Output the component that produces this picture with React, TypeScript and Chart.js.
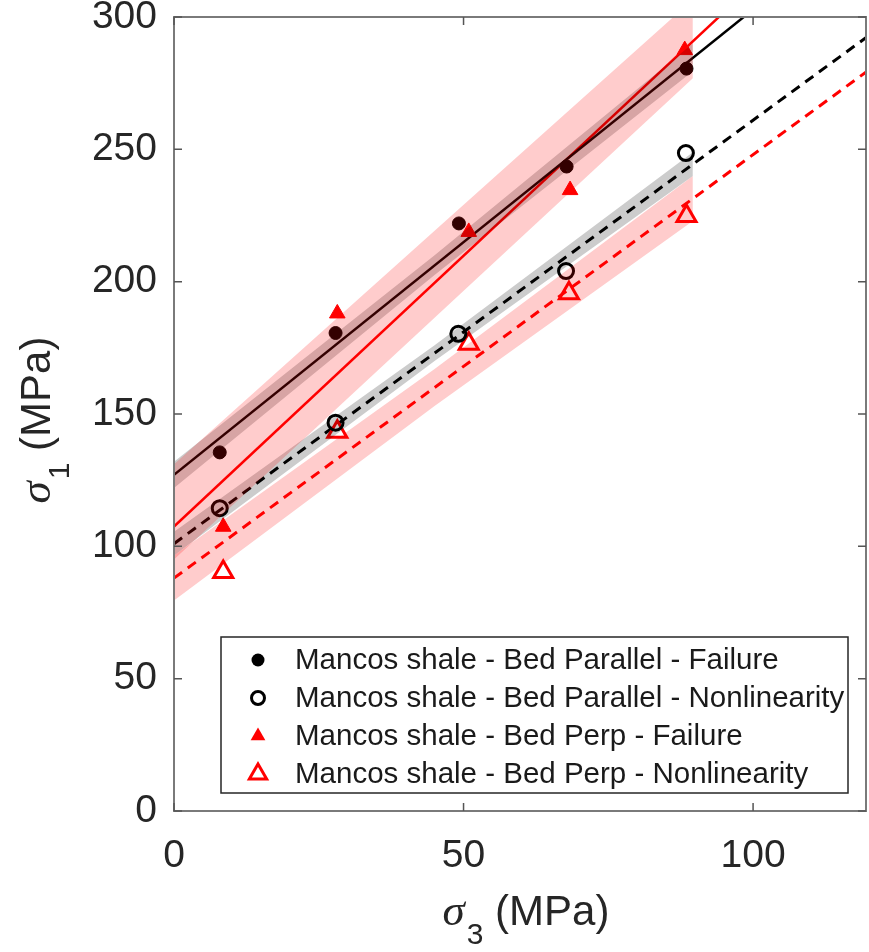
import React, { useEffect, useRef } from 'react';
import { Chart, registerables } from 'chart.js';

Chart.register(...registerables);

const W = 869;
const H = 952;
const FONT = "'Liberation Sans', Arial, Helvetica, sans-serif";
const SERIF = "'Liberation Serif', 'Times New Roman', serif";
const TEXT = '#262626';
const PINK = 'rgba(255,0,0,0.2)';
const GRAY = 'rgba(0,0,0,0.2)';

// ---- measured points (sigma3, sigma1) in MPa ----
const parFailS3 = [7.9, 27.9, 49.2, 67.8, 88.5];
const parFailS1 = [135.5, 180.6, 222.0, 243.5, 280.5];
const parNonS3 = [7.9, 27.9, 49.1, 67.7, 88.4];
const parNonS1 = [114.4, 146.7, 180.3, 204.0, 248.6];
const perpFailS3 = [8.5, 28.2, 50.9, 68.4, 88.2];
const perpFailS1 = [107.4, 188.0, 218.8, 234.6, 287.5];
const perpNonS3 = [8.5, 28.2, 50.9, 68.2, 88.5];
const perpNonS1 = [90.3, 143.3, 176.5, 195.6, 224.8];

// ---- fitted lines (end points) ----
const fitX = [0, 120];
const parFailFit = [127, 338];
const perpFailFit = [107.5, 353];
const parNonFit = [101, 293];
const perpNonFit = [88, 280];

// ---- confidence bands ----
const bandX = [0, 45, 89.6];
const parFailLo = [122, 202.5, 279.5];
const parFailHi = [132, 210, 290];
const perpFailLo = [95, 186.4, 276.9];
const perpFailHi = [131, 219.2, 306.6];
const parNonLo = [96.5, 170, 239.9];
const parNonHi = [105.5, 176, 248.9];
const perpNonLo = [79.5, 153, 222.9];
const perpNonHi = [96.5, 167, 239.9];

// ---- axes ----
const xTicks = [0, 50, 100];
const yTicks = [0, 50, 100, 150, 200, 250, 300];
const xMin = 0;
const xMax = 119.5;
const yMin = 0;
const yMax = 300;

const legendLabels = [
  'Mancos shale - Bed Parallel - Failure',
  'Mancos shale - Bed Parallel - Nonlinearity',
  'Mancos shale - Bed Perp - Failure',
  'Mancos shale - Bed Perp - Nonlinearity',
];
const legendKinds = ['dot', 'ring', 'tri', 'triOpen'];

const pts = (xs: number[], ys: number[]) => xs.map((x, i) => ({ x, y: ys[i] }));

function drawMarker(ctx: CanvasRenderingContext2D, kind: string, x: number, y: number) {
  ctx.save();
  if (kind === 'dot') {
    ctx.beginPath();
    ctx.arc(x, y, 6.5, 0, Math.PI * 2);
    ctx.fillStyle = '#000';
    ctx.fill();
  } else if (kind === 'ring') {
    ctx.beginPath();
    ctx.arc(x, y, 6.5, 0, Math.PI * 2);
    ctx.strokeStyle = '#000';
    ctx.lineWidth = 3;
    ctx.stroke();
  } else {
    const r = kind === 'tri' ? 8.5 : 10;
    ctx.beginPath();
    ctx.moveTo(x, y - r);
    ctx.lineTo(x + 0.866 * r, y + 0.5 * r);
    ctx.lineTo(x - 0.866 * r, y + 0.5 * r);
    ctx.closePath();
    if (kind === 'tri') {
      ctx.fillStyle = '#ff0000';
      ctx.fill();
    } else {
      ctx.strokeStyle = '#ff0000';
      ctx.lineWidth = 3;
      ctx.stroke();
    }
  }
  ctx.restore();
}

function drawSigmaTitle(ctx: CanvasRenderingContext2D, sub: string, cx: number, base: number) {
  const symFont = `italic 45px ${SERIF}`;
  const subFont = `30px ${FONT}`;
  const restFont = `42px ${FONT}`;
  const rest = ' (MPa)';
  ctx.font = symFont;
  const w1 = ctx.measureText('σ').width;
  ctx.font = subFont;
  const w2 = ctx.measureText(sub).width;
  ctx.font = restFont;
  const w3 = ctx.measureText(rest).width;
  let x = cx - (w1 + w2 + w3 + 2) / 2;
  ctx.fillStyle = TEXT;
  ctx.textAlign = 'left';
  ctx.textBaseline = 'alphabetic';
  ctx.font = symFont;
  ctx.fillText('σ', x, base);
  x += w1 + 2;
  ctx.font = subFont;
  ctx.fillText(sub, x, base + 19);
  x += w2;
  ctx.font = restFont;
  ctx.fillText(rest, x, base);
}

const decorPlugin = {
  id: 'decor',
  afterDraw(chart: any) {
    const { ctx, chartArea: a, scales } = chart;
    const xs = scales.x;
    const ys = scales.y;
    ctx.save();

    // legend box
    const lx = 221, ly = 637, lw = 627, lh = 156;
    ctx.fillStyle = '#ffffff';
    ctx.fillRect(lx, ly, lw, lh);
    ctx.strokeStyle = '#262626';
    ctx.lineWidth = 1.5;
    ctx.strokeRect(lx, ly, lw, lh);
    const rowY = [660, 698, 736, 774];
    legendLabels.forEach((lab, i) => {
      drawMarker(ctx, legendKinds[i], 258, rowY[i]);
      ctx.fillStyle = '#1a1a1a';
      ctx.font = `29.5px ${FONT}`;
      ctx.textAlign = 'left';
      ctx.textBaseline = 'middle';
      ctx.fillText(lab, 295, rowY[i] + 1);
    });

    // axes box
    ctx.strokeStyle = '#7a7a7a';
    ctx.lineWidth = 2;
    ctx.strokeRect(a.left, a.top, a.right - a.left, a.bottom - a.top);
    ctx.lineWidth = 1.5;
    ctx.strokeStyle = '#555';
    ctx.beginPath();
    xTicks.forEach((v) => {
      const px = xs.getPixelForValue(v);
      ctx.moveTo(px, a.bottom);
      ctx.lineTo(px, a.bottom - 8);
      ctx.moveTo(px, a.top);
      ctx.lineTo(px, a.top + 8);
    });
    yTicks.forEach((v) => {
      const py = ys.getPixelForValue(v);
      ctx.moveTo(a.left, py);
      ctx.lineTo(a.left + 8, py);
      ctx.moveTo(a.right, py);
      ctx.lineTo(a.right - 8, py);
    });
    ctx.stroke();

    // axis titles
    drawSigmaTitle(ctx, '3', (a.left + a.right) / 2 + 6, 925);
    ctx.save();
    ctx.translate(50, (a.top + a.bottom) / 2 + 6);
    ctx.rotate(-Math.PI / 2);
    drawSigmaTitle(ctx, '1', 0, 0);
    ctx.restore();

    ctx.restore();
  },
};

const bandUpper = (xs: number[], ys: number[]) => ({
  data: pts(xs, ys),
  borderColor: 'rgba(0,0,0,0)',
  borderWidth: 0,
  pointRadius: 0,
  fill: false,
  order: 0,
});
const bandLower = (xs: number[], ys: number[], color: string) => ({
  data: pts(xs, ys),
  borderColor: 'rgba(0,0,0,0)',
  borderWidth: 0,
  pointRadius: 0,
  fill: '-1',
  backgroundColor: color,
  order: 0,
});
const fitLine = (ys: number[], color: string, dashed: boolean) => ({
  data: pts(fitX, ys),
  borderColor: color,
  borderWidth: dashed ? 3 : 2.5,
  borderDash: dashed ? [10, 7] : [],
  pointRadius: 0,
  fill: false,
  order: 2,
});

export default function App() {
  const ref = useRef<HTMLCanvasElement | null>(null);

  useEffect(() => {
    document.body.style.margin = '0';
    document.body.style.overflow = 'hidden';
    const canvas = ref.current;
    if (!canvas) return;
    const chart = new Chart(canvas, {
      type: 'line',
      data: {
        datasets: [
          bandUpper(bandX, perpFailHi),
          bandLower(bandX, perpFailLo, PINK),
          bandUpper(bandX, parFailHi),
          bandLower(bandX, parFailLo, GRAY),
          bandUpper(bandX, parNonHi),
          bandLower(bandX, parNonLo, GRAY),
          bandUpper(bandX, perpNonHi),
          bandLower(bandX, perpNonLo, PINK),
          fitLine(parFailFit, '#000000', false),
          fitLine(perpFailFit, '#ff0000', false),
          fitLine(parNonFit, '#000000', true),
          fitLine(perpNonFit, '#ff0000', true),
          {
            data: pts(parFailS3, parFailS1),
            showLine: false,
            pointStyle: 'circle',
            pointRadius: 6.5,
            pointBackgroundColor: '#000',
            pointBorderColor: '#000',
            pointBorderWidth: 1,
            order: 1,
          },
          {
            data: pts(parNonS3, parNonS1),
            showLine: false,
            pointStyle: 'circle',
            pointRadius: 7.5,
            pointBackgroundColor: 'rgba(0,0,0,0)',
            pointBorderColor: '#000',
            pointBorderWidth: 3,
            order: 1,
          },
          {
            data: pts(perpFailS3, perpFailS1),
            showLine: false,
            pointStyle: 'triangle',
            pointRadius: 9,
            pointBackgroundColor: '#ff0000',
            pointBorderColor: '#ff0000',
            pointBorderWidth: 1,
            order: 1,
          },
          {
            data: pts(perpNonS3, perpNonS1),
            showLine: false,
            pointStyle: 'triangle',
            pointRadius: 11,
            pointBackgroundColor: 'rgba(0,0,0,0)',
            pointBorderColor: '#ff0000',
            pointBorderWidth: 3,
            order: 1,
          },
        ] as any,
      },
      options: {
        animation: false,
        responsive: false,
        devicePixelRatio: 1,
        events: [],
        layout: { autoPadding: false, padding: { top: 17, right: 3, left: 0, bottom: 0 } },
        plugins: {
          legend: { display: false },
          tooltip: { enabled: false },
        },
        scales: {
          x: {
            type: 'linear',
            min: xMin,
            max: xMax,
            afterBuildTicks: (s: any) => {
              s.ticks = xTicks.map((v) => ({ value: v }));
            },
            afterFit: (s: any) => {
              s.height = H - 811;
              s.paddingLeft = 0;
              s.paddingRight = 0;
            },
            grid: { display: false, drawTicks: false },
            border: { display: false },
            ticks: {
              font: { family: FONT, size: 39 },
              color: TEXT,
              padding: 22,
              maxRotation: 0,
              autoSkip: false,
            },
          },
          y: {
            type: 'linear',
            min: yMin,
            max: yMax,
            afterBuildTicks: (s: any) => {
              s.ticks = yTicks.map((v) => ({ value: v }));
            },
            afterFit: (s: any) => {
              s.width = 174;
              s.paddingTop = 0;
              s.paddingBottom = 0;
            },
            grid: { display: false, drawTicks: false },
            border: { display: false },
            ticks: {
              font: { family: FONT, size: 39 },
              color: TEXT,
              padding: 17,
              autoSkip: false,
            },
          },
        },
      } as any,
      plugins: [decorPlugin],
    });
    return () => chart.destroy();
  }, []);

  return <canvas ref={ref} width={W} height={H} style={{ display: 'block', width: W, height: H }} />;
}
